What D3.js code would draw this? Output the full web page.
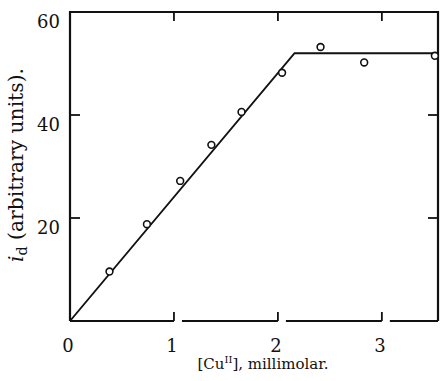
<!DOCTYPE html>
<html>
<head>
<meta charset="utf-8">
<script src="https://cdn.jsdelivr.net/npm/d3@7/dist/d3.min.js"></script>
<style>
  html, body { margin: 0; padding: 0; background: #fff; }
  svg { display: block; }
  text { font-family: "DejaVu Serif", "Liberation Serif", serif; fill: #111; }
</style>
</head>
<body>
<svg id="chart" width="442" height="381"></svg>
<script>
// Diffusion current vs. copper(II) concentration
const concentration = [0.38, 0.74, 1.06, 1.36, 1.65, 2.04, 2.41, 2.83, 3.51];
const current       = [9.6, 18.8, 27.2, 34.2, 40.6, 48.2, 53.2, 50.2, 51.5];

// Fitted titration line: rises from the origin, levels off after the break
const fitX = [0, 2.16, 3.54];
const fitY = [0, 52, 52];

const xTicks = [0, 1, 2, 3];
const yTicks = [20, 40, 60];

const svg = d3.select("#chart");
const x = d3.scaleLinear().domain([0, 3.54]).range([70, 438]);
const y = d3.scaleLinear().domain([0, 60]).range([321, 12]);

const ink = "#111";
const g = svg.append("g");

// Frame: left, top, right edges
g.append("path")
  .attr("d", `M${x(0)},${y(0)} V${y(60)} H${x(3.54)} V${y(0)}`)
  .attr("fill", "none").attr("stroke", ink).attr("stroke-width", 2.2);

// Bottom edge drawn in pieces, with a short gap after each tick
const gap = 8;
const segStarts = xTicks.map((t, i) => i === 0 ? x(t) : x(t) + gap);
const segEnds = xTicks.slice(1).map(t => x(t)).concat([x(3.54)]);
g.selectAll(".xseg").data(segStarts).join("line")
  .attr("class", "xseg")
  .attr("x1", d => d).attr("x2", (d, i) => segEnds[i])
  .attr("y1", y(0)).attr("y2", y(0))
  .attr("stroke", ink).attr("stroke-width", 2.2);

// Tick marks on all four sides
const inner = xTicks.filter(t => t > 0);
g.selectAll(".xtb").data(inner).join("line")
  .attr("x1", d => x(d)).attr("x2", d => x(d))
  .attr("y1", y(0)).attr("y2", y(0) - 9)
  .attr("stroke", ink).attr("stroke-width", 1.8);
g.selectAll(".xtt").data(inner).join("line")
  .attr("x1", d => x(d)).attr("x2", d => x(d))
  .attr("y1", y(60)).attr("y2", y(60) + 9)
  .attr("stroke", ink).attr("stroke-width", 1.8);
const yInner = yTicks.filter(t => t < 60);
g.selectAll(".ytl").data(yInner).join("line")
  .attr("x1", x(0)).attr("x2", x(0) + 10)
  .attr("y1", d => y(d)).attr("y2", d => y(d))
  .attr("stroke", ink).attr("stroke-width", 1.8);
g.selectAll(".ytr").data(yInner).join("line")
  .attr("x1", x(3.54)).attr("x2", x(3.54) - 10)
  .attr("y1", d => y(d)).attr("y2", d => y(d))
  .attr("stroke", ink).attr("stroke-width", 1.8);

// Tick labels
g.selectAll(".xl").data(xTicks).join("text")
  .attr("x", d => x(d) - 2).attr("y", 352)
  .attr("text-anchor", "middle").attr("font-size", 18)
  .text(d => d);
g.selectAll(".yl").data(yTicks).join("text")
  .attr("x", 60).attr("y", d => y(d) + 16)
  .attr("text-anchor", "end").attr("font-size", 18)
  .text(d => d);

// Axis titles
const xt = svg.append("text")
  .attr("x", 263).attr("y", 369)
  .attr("text-anchor", "middle").attr("font-size", 15);
xt.append("tspan").text("[Cu");
xt.append("tspan").attr("dy", -6).attr("font-size", 10).text("II");
xt.append("tspan").attr("dy", 6).text("], millimolar.");

const yt = svg.append("text")
  .attr("transform", "translate(23,165) rotate(-90)")
  .attr("text-anchor", "middle").attr("font-size", 17);
yt.append("tspan").attr("font-style", "italic").text("i");
const ySub = yt.append("tspan").attr("dy", 4).attr("font-size", 12).text("d");
const yRest = yt.append("tspan").attr("dy", -4).text(" (arbitrary units).");

// Size the vertical title so it runs about 194px along the axis
const wanted = 194;
const have = yt.node().getComputedTextLength();
if (have > 0) {
  const k = wanted / have;
  yt.attr("font-size", 17 * k);
  ySub.attr("font-size", 12 * k);
}

// Fitted line
const line = d3.line().x(d => x(d[0])).y(d => y(d[1]));
svg.append("path")
  .datum(d3.zip(fitX, fitY))
  .attr("d", line)
  .attr("fill", "none").attr("stroke", ink).attr("stroke-width", 1.9)
  .attr("stroke-linejoin", "miter");

// Measured points as open circles
svg.selectAll(".pt").data(d3.zip(concentration, current)).join("circle")
  .attr("cx", d => x(d[0])).attr("cy", d => y(d[1]))
  .attr("r", 3.4)
  .attr("fill", "#fff").attr("stroke", ink).attr("stroke-width", 1.6);
</script>
</body>
</html>
